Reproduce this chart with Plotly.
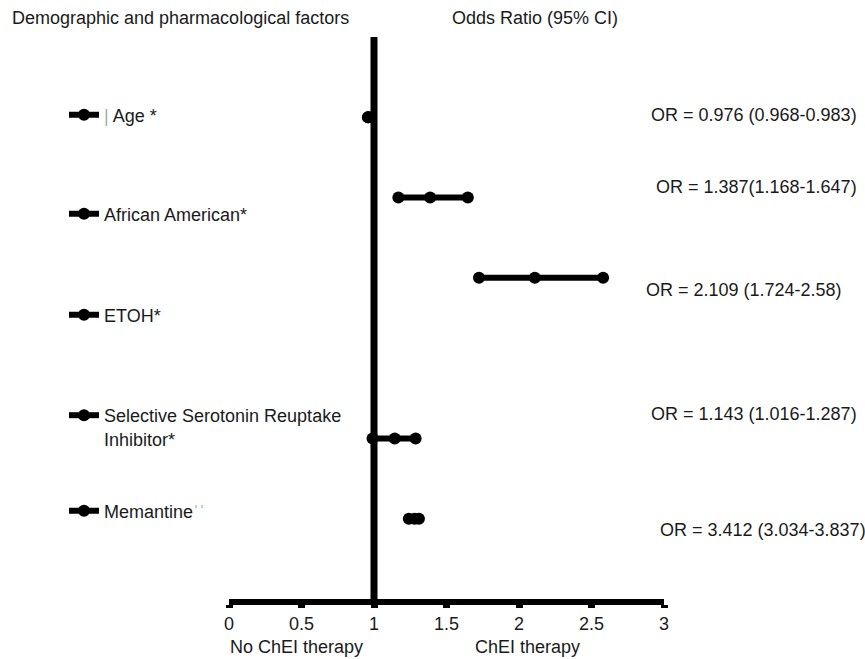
import plotly.graph_objects as go

# ---------------- data ----------------
factors = [
    "<span style='color:#aaa'>|</span> Age *",
    "African American*",
    "ETOH*",
    "Selective Serotonin Reuptake<br>Inhibitor*",
    "Memantine<span style='color:#999'>ˈˈ</span>",
]
rows = [6, 5, 4, 2, 1]
# values as drawn on the chart
plot_lower = [0.958, 1.168, 1.724, 0.99, 1.24]
plot_or = [0.960, 1.387, 2.109, 1.143, 1.28]
plot_upper = [0.962, 1.647, 2.58, 1.287, 1.31]
# reported odds ratios (95% CI)
or_text = [
    "OR = 0.976 (0.968-0.983)",
    "OR = 1.387(1.168-1.647)",
    "OR = 2.109 (1.724-2.58)",
    "OR = 1.143 (1.016-1.287)",
    "OR = 3.412 (3.034-3.837)",
]
x_ticks = [0, 0.5, 1, 1.5, 2, 2.5, 3]
x_ticklabels = ["0", "0.5", "1", "1.5", "2", "2.5", "3"]

# ---------------- layout helpers ----------------
W, H = 865, 659
M_L, M_R, M_T, M_B = 229, 201, 37, 60
PW, PH = W - M_L - M_R, H - M_T - M_B
FONT = "Liberation Sans, Arial, sans-serif"
TXT = "#1a1a1a"


def px_x(px):
    return (px - M_L) / PW


def px_y(py):
    return (H - M_B - py) / PH


fig = go.Figure()
legend_ids = ["legend", "legend2", "legend3", "legend4", "legend5"]
legend_pos_y = [115, 214, 315, 427, 511]  # pixel centres of left labels
for i in range(len(factors)):
    fig.add_trace(go.Scatter(
        x=[plot_lower[i], plot_or[i], plot_upper[i]],
        y=[rows[i]] * 3,
        mode="lines+markers",
        line=dict(color="black", width=6),
        marker=dict(color="black", size=12),
        name=factors[i],
        legend=legend_ids[i],
        showlegend=True,
        hoverinfo="skip",
    ))

layout_legends = {}
for i, lid in enumerate(legend_ids):
    layout_legends[lid] = dict(
        xref="container", yref="container",
        x=64 / W, y=1 - legend_pos_y[i] / H,
        xanchor="left", yanchor="middle",
        bgcolor="rgba(0,0,0,0)", borderwidth=0,
        font=dict(family=FONT, size=18, color=TXT),
        valign="top",
    )

fig.update_layout(
    width=W, height=H,
    margin=dict(l=M_L, r=M_R, t=M_T, b=M_B, autoexpand=False),
    paper_bgcolor="white", plot_bgcolor="white",
    font=dict(family=FONT, size=18, color=TXT),
    showlegend=True,
    **layout_legends,
)

fig.update_xaxes(
    range=[0, 3], tickvals=x_ticks, ticktext=x_ticklabels,
    showline=True, linecolor="black", linewidth=6,
    ticks="outside", ticklen=3, tickwidth=7, tickcolor="black",
    showgrid=False, zeroline=False,
    tickfont=dict(family=FONT, size=18, color=TXT),
)
fig.update_yaxes(range=[0, 7], visible=False)

# reference line at OR = 1
fig.add_shape(type="line", x0=1, x1=1, y0=0, y1=7, xref="x", yref="y",
              line=dict(color="black", width=7))

ann = []
# headers
ann.append(dict(text="Demographic and pharmacological factors", x=px_x(10), y=px_y(18),
                xanchor="left", yanchor="middle"))
ann.append(dict(text="Odds Ratio (95% CI)", x=px_x(450), y=px_y(18),
                xanchor="left", yanchor="middle"))
# OR texts
or_px = [(649, 115), (654, 187), (644, 290), (649, 414), (658, 530)]
for t, (px, py) in zip(or_text, or_px):
    ann.append(dict(text=t, x=px_x(px), y=px_y(py), xanchor="left", yanchor="middle"))
# axis side labels
ann.append(dict(text="No ChEI therapy", x=px_x(228), y=px_y(647), xanchor="left", yanchor="middle"))
ann.append(dict(text="ChEI therapy", x=px_x(473), y=px_y(647), xanchor="left", yanchor="middle"))

for a in ann:
    fig.add_annotation(xref="paper", yref="paper", showarrow=False,
                       font=dict(family=FONT, size=18, color=TXT), **a)

fig.write_html("out.html")
